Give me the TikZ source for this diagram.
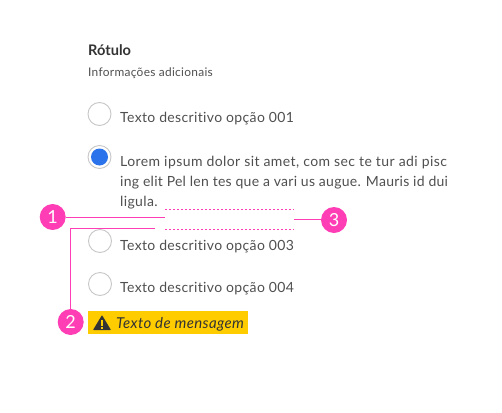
\documentclass[tikz,border=0pt]{standalone}
\usepackage{fontspec}
\usetikzlibrary{backgrounds}
\setmainfont{Lato}
\newfontfamily\opttext[LetterSpace=2.5,Ligatures=NoCommon]{Lato}
\newfontfamily\loremwide[LetterSpace=3,Ligatures=NoCommon]{Lato}
\newfontfamily\loremtight[LetterSpace=1.9,Ligatures=NoCommon]{Lato}
\definecolor{pinkmark}{HTML}{FF3DB4}
\definecolor{txt}{HTML}{4F4F4F}
\definecolor{ink}{HTML}{333333}
\definecolor{warn}{HTML}{FFCC00}
\definecolor{sel}{HTML}{2B73EA}
\tikzset{
 x=1pt,y=-1pt,
 badge/.style={circle,fill=pinkmark,text=white,minimum size=26pt,inner sep=0pt,font=\fontsize{18}{18}\selectfont},
 marker/.style={draw=pinkmark,line width=0.8pt},
 gap/.style={draw=pinkmark,line width=0.8pt,dash pattern=on 2pt off 2pt},
 radio/.style={circle,draw=black!22,fill=white,line width=0.9pt,minimum size=23pt,inner sep=0pt},
 option/.style={anchor=base west,inner sep=0pt,text=txt,font=\opttext\fontsize{14}{14}\selectfont},
}
\begin{document}
\begin{tikzpicture}
\useasboundingbox (0,0) rectangle (502,412);
\node[anchor=base west,inner sep=0pt,text=ink,font=\bfseries\fontsize{14.6}{14.6}\selectfont] (title) at (88,56) {Rótulo};
\node[anchor=base west,inner sep=0pt,text=txt,font=\opttext\fontsize{11.9}{11.9}\selectfont] (info) at (88,76) {Informações adicionais};
\node[radio] (r1) at (99.5,114) {};
\node[option] (o1) at (120,122) {Texto descritivo opção 001};
\node[radio] (r2) at (99.5,157) {};
\node[circle,fill=sel,minimum size=17pt,inner sep=0pt] (r2dot) at (r2) {};
\node[option,font=\loremwide\fontsize{14}{14}\selectfont] (l1) at (120,166) {Lorem ipsum dolor sit amet, com sec te tur adi pisc};
\node[option,font=\loremtight\fontsize{14}{14}\selectfont] (l2) at (120,186) {ing elit Pel len tes que a vari us augue. Mauris id dui};
\node[option] (l3) at (120,206) {ligula.};
\node[radio] (r3) at (100,241) {};
\node[option] (o3) at (120,250) {Texto descritivo opção 003};
\node[radio] (r4) at (100,284) {};
\node[option] (o4) at (120,292) {Texto descritivo opção 004};
\node[fill=warn,minimum width=160pt,minimum height=23pt,inner sep=0pt,anchor=north west] (msg) at (88,311) {};
\fill[ink,rounded corners=0.6pt] (93,330) -- (102,315) -- (111,330) -- cycle;
\fill[warn] (101,320) rectangle (103,325.5);
\fill[warn] (101,326.7) rectangle (103,328.6);
\node[anchor=base west,inner sep=0pt,text=ink,font=\opttext\itshape\fontsize{15}{15}\selectfont] (msgt) at (116,328) {Texto de mensagem};
\coordinate (d1a) at (165,209.5);
\coordinate (d1b) at (294,209.5);
\coordinate (d2a) at (165,229.5);
\coordinate (d2b) at (294,229.5);
\draw[gap] (d1a) -- (d1b);
\draw[gap] (d2a) -- (d2b);
\node[badge] (b1) at (52.7,217) {1};
\node[badge] (b2) at (70.7,322) {2};
\node[badge] (b3) at (334,220) {3};
\coordinate (e1) at (165,217.5);
\coordinate (e2) at (155,228);
\coordinate (e3) at (294,219.5);
\begin{pgfonlayer}{background}
\draw[marker] (b1) -- (b1 -| e1);
\draw[marker] (e2) -| (b2);
\draw[marker] (e3) -- (e3 -| b3);
\end{pgfonlayer}
\end{tikzpicture}
\end{document}
